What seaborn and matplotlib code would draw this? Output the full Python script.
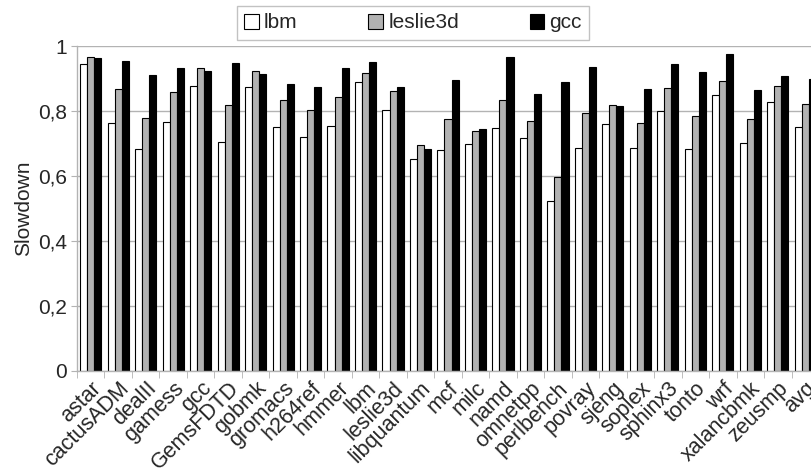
import matplotlib
matplotlib.use("Agg")
import matplotlib.pyplot as plt
import seaborn as sns
import pandas as pd
from matplotlib.patches import Patch
from matplotlib.ticker import FixedLocator

benchmarks = ["astar", "cactusADM", "dealII", "gamess", "gcc", "GemsFDTD", "gobmk",
              "gromacs", "h264ref", "hmmer", "lbm", "leslie3d", "libquantum", "mcf",
              "milc", "namd", "omnetpp", "perlbench", "povray", "sjeng", "soplex",
              "sphinx3", "tonto", "wrf", "xalancbmk", "zeusmp", "avg"]
lbm = [0.944, 0.762, 0.682, 0.767, 0.878, 0.704, 0.873, 0.750, 0.719, 0.753, 0.888,
       0.802, 0.652, 0.681, 0.697, 0.748, 0.718, 0.523, 0.687, 0.761, 0.685, 0.799,
       0.682, 0.848, 0.701, 0.827, 0.751]
leslie3d = [0.967, 0.869, 0.777, 0.858, 0.931, 0.817, 0.922, 0.834, 0.803, 0.842, 0.916,
            0.862, 0.694, 0.774, 0.740, 0.833, 0.769, 0.597, 0.793, 0.819, 0.763, 0.871,
            0.785, 0.892, 0.774, 0.878, 0.822]
gcc = [0.964, 0.953, 0.912, 0.932, 0.924, 0.949, 0.913, 0.883, 0.873, 0.933, 0.950,
       0.873, 0.683, 0.894, 0.746, 0.965, 0.853, 0.888, 0.936, 0.814, 0.867, 0.944,
       0.919, 0.974, 0.865, 0.907, 0.897]
series_names = ["lbm", "leslie3d", "gcc"]
colors = ["#ffffff", "#b2b2b2", "#000000"]
yticks = [0, 0.2, 0.4, 0.6, 0.8, 1.0]
ytick_labels = ["0", "0,2", "0,4", "0,6", "0,8", "1"]

rows = []
for name, vals in zip(series_names, [lbm, leslie3d, gcc]):
    for b, v in zip(benchmarks, vals):
        rows.append({"benchmark": b, "series": name, "value": v})
df = pd.DataFrame(rows)

sns.set_style("white")
plt.rcParams["font.family"] = ["Liberation Sans", "DejaVu Sans"]

fig = plt.figure(figsize=(8.11, 4.68), dpi=100)
ax = fig.add_axes([77 / 811, 97 / 468, 742 / 811, 325 / 468])

sns.barplot(data=df, x="benchmark", y="value", hue="series", order=benchmarks,
            hue_order=series_names, palette=colors, width=0.77,
            edgecolor="black", linewidth=0.8, ax=ax, legend=False, saturation=1)

ax.set_xlim(-0.5, len(benchmarks) - 0.5)
ax.set_ylim(0, 1)
ax.set_yticks(yticks)
ax.set_yticklabels(ytick_labels, fontsize=15)
ax.set_ylabel("Slowdown", fontsize=15, labelpad=4)
ax.set_xlabel("")
ax.yaxis.grid(True, color="#b3b3b3", linewidth=1)
ax.set_axisbelow(True)
for s in ["top", "right"]:
    ax.spines[s].set_visible(False)
for s in ["left", "bottom"]:
    ax.spines[s].set_color("#b3b3b3")
    ax.spines[s].set_linewidth(1)

ax.set_xticks(range(len(benchmarks)))
ax.set_xticklabels(benchmarks, rotation=45, ha="right", rotation_mode="anchor", fontsize=15.5)
ax.xaxis.set_minor_locator(FixedLocator([i - 0.5 for i in range(len(benchmarks) + 1)]))
ax.tick_params(axis="x", which="major", length=0, pad=5)
ax.tick_params(axis="x", which="minor", length=5, color="#b3b3b3", direction="out", bottom=True)
ax.tick_params(axis="y", length=4, color="#b3b3b3", direction="out", left=True, pad=3)

handles = [Patch(facecolor=c, edgecolor="black", linewidth=0.8) for c in colors]
leg = fig.legend(handles, series_names, loc="center", bbox_to_anchor=(413 / 811, 1 - 23 / 468),
                 ncol=3, frameon=True, fancybox=False, edgecolor="#b3b3b3",
                 fontsize=15, handlelength=0.7, handleheight=0.7, handletextpad=0.25,
                 columnspacing=3.4, borderpad=0.35)
leg.get_frame().set_linewidth(1)

fig.savefig("out.png", dpi=100)
